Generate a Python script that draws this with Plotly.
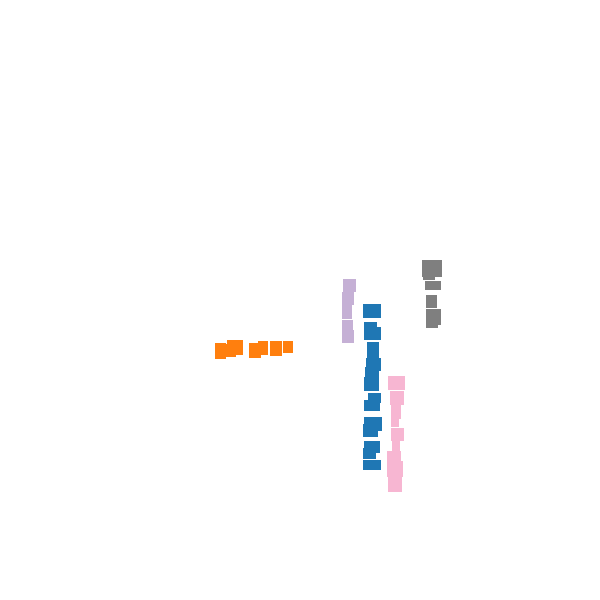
import plotly.graph_objects as go

# Each block: left, right, top, bottom edges (in chart units, y grows downward)
orange_left = [215, 226, 227, 249, 258, 270, 283]
orange_right = [226, 236, 243, 261, 268, 282, 293]
orange_top = [343, 344, 340, 343, 341, 341, 341]
orange_bottom = [359, 357, 355, 358, 355, 356, 353]

purple_left = [343, 342, 342, 342, 342]
purple_right = [356, 354, 352, 353, 354]
purple_top = [279, 292, 305, 320, 330]
purple_bottom = [292, 305, 319, 330, 343]

grey_left = [422, 423, 425, 426, 426, 426]
grey_right = [442, 435, 441, 437, 441, 438]
grey_top = [260, 277, 281, 295, 309, 325]
grey_bottom = [277, 280, 290, 308, 325, 328]

blue_left = [363, 364, 364, 367, 366, 365, 364, 368, 364, 364, 363, 364, 363, 363]
blue_right = [381, 377, 381, 379, 381, 379, 379, 381, 380, 382, 378, 380, 376, 381]
blue_top = [304, 322, 327, 342, 358, 367, 377, 393, 400, 417, 424, 441, 448, 460]
blue_bottom = [318, 327, 340, 358, 371, 378, 391, 403, 411, 431, 437, 453, 459, 470]

pink_left = [388, 390, 391, 391, 391, 392, 387, 387, 388]
pink_right = [405, 404, 401, 399, 404, 400, 401, 403, 402]
pink_top = [376, 391, 405, 419, 428, 441, 451, 461, 477]
pink_bottom = [390, 405, 419, 427, 441, 451, 461, 477, 492]

series = [
    ("orange", "#ff7f0e", orange_left, orange_right, orange_top, orange_bottom),
    ("purple", "#c5b0d5", purple_left, purple_right, purple_top, purple_bottom),
    ("grey", "#7f7f7f", grey_left, grey_right, grey_top, grey_bottom),
    ("blue", "#1f77b4", blue_left, blue_right, blue_top, blue_bottom),
    ("pink", "#f7b6d2", pink_left, pink_right, pink_top, pink_bottom),
]

fig = go.Figure()
for name, color, l, r, t, b in series:
    fig.add_trace(go.Bar(
        name=name,
        x=[(a + c) / 2 for a, c in zip(l, r)],
        width=[c - a for a, c in zip(l, r)],
        base=t,
        y=[d - a for a, d in zip(t, b)],
        marker=dict(color=color, line=dict(width=0)),
        showlegend=False,
        hoverinfo="skip",
    ))

fig.update_layout(
    width=600, height=600,
    margin=dict(l=0, r=0, t=0, b=0),
    paper_bgcolor="white", plot_bgcolor="white",
    barmode="overlay",
    xaxis=dict(range=[0, 600], visible=False, fixedrange=True),
    yaxis=dict(range=[600, 0], visible=False, fixedrange=True),
)

fig.write_html("out.html")
